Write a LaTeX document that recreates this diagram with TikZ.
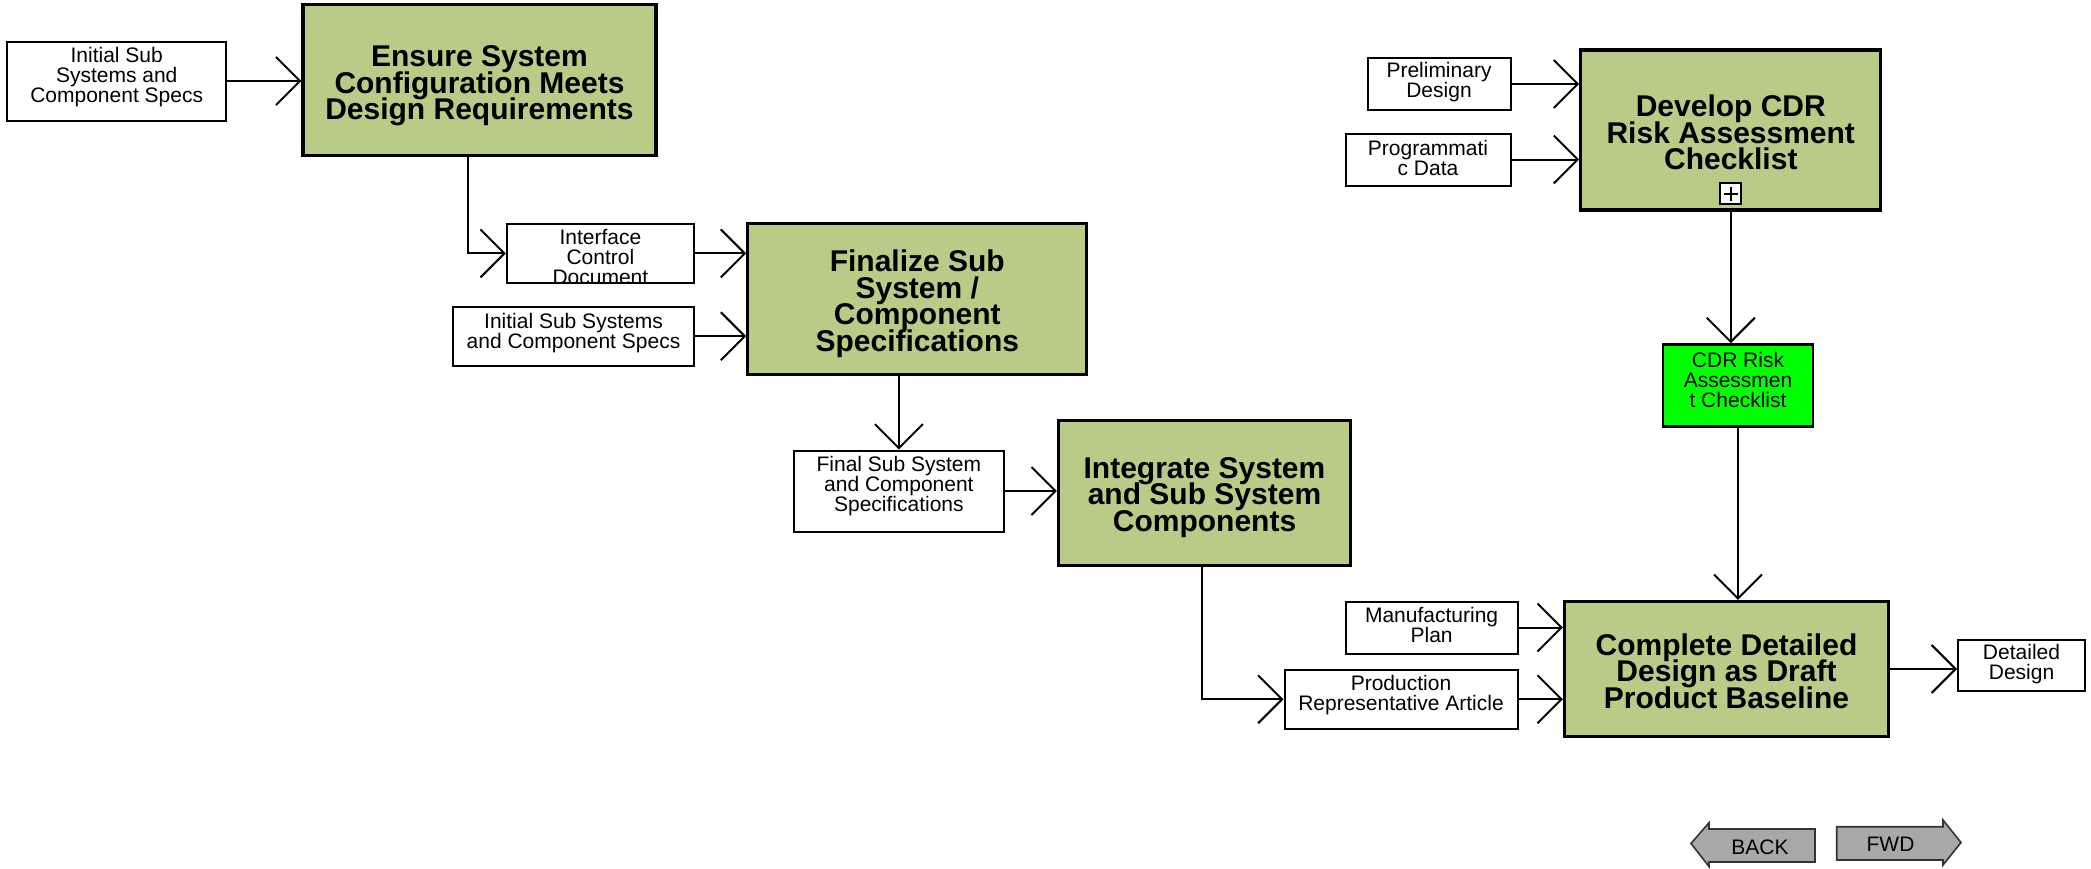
\documentclass[tikz,border=0pt]{standalone}
\usepackage{fontspec}
\setmainfont{Liberation Sans}
\usetikzlibrary{arrows.meta}
\definecolor{procgreen}{HTML}{B8CC88}
\definecolor{brightgreen}{HTML}{00FF00}
\definecolor{btngray}{HTML}{A8A8A8}
\definecolor{btnedge}{HTML}{333333}
\newcommand\myboldfont{\fontsize{30}{26.5}\selectfont\bfseries\lineskiplimit=-100pt\relax}
\newcommand\mysmallfont{\fontsize{21}{20}\selectfont\lineskiplimit=-100pt\relax}
\begin{document}
\begin{tikzpicture}[x=1pt,y=-1pt,
  proc/.style={draw=black, line width=3.2pt, fill=procgreen, inner sep=0pt},
  proctext/.style={align=center, inner sep=0pt, font=\myboldfont},
  databox/.style={draw=black, line width=2pt, fill=white, inner sep=0pt},
  smalltext/.style={align=center, font=\mysmallfont, inner sep=0pt},
  flow/.style={line width=2pt, -{Straight Barb[length=24pt,width=48pt,line width=2pt]}},
  btn/.style={draw=btnedge, line width=1.6pt, fill=btngray, line join=miter},
]
\useasboundingbox (0,0) rectangle (2091,868);
\fill[white] (0,0) rectangle (2091,868);

% left chain
\node[databox, minimum width=219pt, minimum height=79pt] (in1) at (116.7,81) {};
\node[smalltext] (in1-t) at ([yshift=4pt]in1.center) {Initial Sub\\Systems and\\Component Specs};
\node[proc, minimum width=353pt, minimum height=151pt] (ens) at (479.5,80.3) {};
\node[proctext] (ens-t) at ([yshift=-5.5pt]ens.center) {Ensure System\\Configuration Meets\\Design Requirements};

\node[databox, minimum width=187pt, minimum height=59pt] (icd) at (600.4,253.4) {};
\begin{scope}
  \clip (icd.south west) rectangle (icd.north east);
  \node[smalltext, anchor=north] (icd-t) at (600.4,229.5) {Interface\\Control\\Document};
\end{scope}
\node[databox, minimum width=241pt, minimum height=59pt] (in2) at (573.5,336.2) {};
\node[smalltext] (in2-t) at ([yshift=3pt]in2.center) {Initial Sub Systems\\and Component Specs};
\node[proc, minimum width=339pt, minimum height=151pt] (fin) at (917.3,299.3) {};
\node[proctext] (fin-t) at ([yshift=-4.5pt]fin.center) {Finalize Sub\\System /\\Component\\Specifications};

\node[databox, minimum width=210pt, minimum height=81pt] (fsc) at (898.9,491) {};
\node[smalltext] (fsc-t) at ([yshift=4.5pt]fsc.center) {Final Sub System\\and Component\\Specifications};
\node[proc, minimum width=292pt, minimum height=145pt] (intg) at (1204.5,492.7) {};
\node[proctext] (intg-t) at ([yshift=-4.5pt]intg.center) {Integrate System\\and Sub System\\Components};

% right part
\node[databox, minimum width=143pt, minimum height=52pt] (prel) at (1439,84) {};
\node[smalltext] (prel-t) at ([yshift=1.5pt]prel.center) {Preliminary\\Design};
\node[databox, minimum width=165pt, minimum height=52pt] (prog) at (1428,159.5) {};
\node[smalltext] (prog-t) at ([yshift=1.5pt]prog.center) {Programmati\\c Data};
\node[proc, minimum width=300pt, minimum height=160pt] (dev) at (1730.8,130) {};
\node[proctext] (dev-t) at ([yshift=-2.5pt]dev.center) {Develop CDR\\Risk Assessment\\Checklist};
\node[draw=black, line width=1.5pt, fill=white, minimum size=21pt, inner sep=0pt] (plus) at (1730.6,193.7) {};
\draw[line width=1.8pt] ([xshift=-7pt]plus.center) -- ([xshift=7pt]plus.center);
\draw[line width=1.8pt] ([yshift=-7pt]plus.center) -- ([yshift=7pt]plus.center);

\node[draw=black, line width=2.6pt, fill=brightgreen, inner sep=0pt,
  minimum width=150pt, minimum height=82pt] (cdr) at (1738,385.5) {};
\node[smalltext] (cdr-t) at ([yshift=5.5pt]cdr.center) {CDR Risk\\Assessmen\\t Checklist};

\node[databox, minimum width=172pt, minimum height=52pt] (manu) at (1431.6,627.5) {};
\node[smalltext] (manu-t) at ([yshift=3pt]manu.center) {Manufacturing\\Plan};
\node[databox, minimum width=233pt, minimum height=59pt] (prod) at (1401,699.3) {};
\node[smalltext] (prod-t) at ([yshift=4pt]prod.center) {Production\\Representative Article};
\node[proc, minimum width=324pt, minimum height=135pt] (comp) at (1726.5,669) {};
\node[proctext] (comp-t) at ([yshift=-2pt]comp.center) {Complete Detailed\\Design as Draft\\Product Baseline};
\node[databox, minimum width=127pt, minimum height=51pt] (det) at (2021.5,665.3) {};
\node[smalltext] (det-t) at ([yshift=1pt]det.center) {Detailed\\Design};

% connectors
\coordinate (e1) at (468,0);
\coordinate (e2) at (1202,0);
\draw[flow] (in1.east) -- (in1.east -| ens.west);
\draw[flow] (ens.south -| e1) |- (icd.west);
\draw[flow] (icd.east) -- (icd.east -| fin.west);
\draw[flow] (in2.east) -- (in2.east -| fin.west);
\draw[flow] (fin.south -| fsc.north) -- (fsc.north);
\draw[flow] (fsc.east) -- (fsc.east -| intg.west);
\draw[flow] (intg.south -| e2) |- (prod.west);
\draw[flow] (manu.east) -- (manu.east -| comp.west);
\draw[flow] (prod.east) -- (prod.east -| comp.west);
\draw[flow] (comp.east) -- (comp.east -| det.west);
\draw[flow] (prel.east) -- (prel.east -| dev.west);
\draw[flow] (prog.east) -- (prog.east -| dev.west);
\draw[flow] (dev.south) -- (dev.south |- cdr.north);
\draw[flow] (cdr.south) -- (cdr.south |- comp.north);

% navigation buttons
\draw[btn] (1691,843.5) -- (1709,822.7) -- (1709,829) -- (1815,829) -- (1815,862) -- (1709,862) -- (1709,866.5) -- cycle;
\node[smalltext] (back) at (1760,847) {BACK};
\draw[btn] (1961,842.5) -- (1943,820) -- (1943,826.7) -- (1836.7,826.7) -- (1836.7,860) -- (1943,860) -- (1943,865) -- cycle;
\node[smalltext] (fwd) at (1890.5,844.5) {FWD};
\end{tikzpicture}
\end{document}
